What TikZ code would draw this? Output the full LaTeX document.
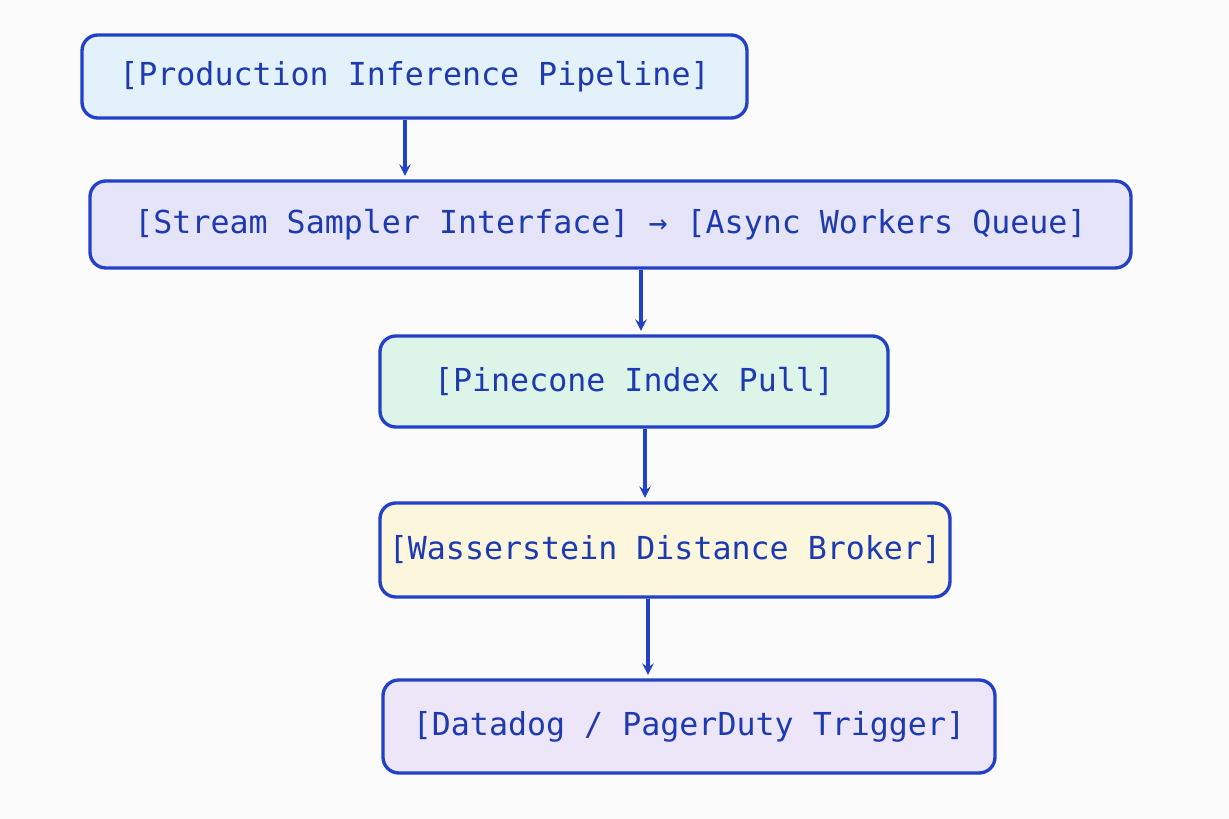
\documentclass[tikz,border=0pt]{standalone}
\usepackage{fontspec}
\setmonofont{DejaVu Sans Mono}
\usetikzlibrary{positioning,calc}
\definecolor{edge}{HTML}{2340C8}
\definecolor{ink}{HTML}{1E3AB0}
\definecolor{fillA}{HTML}{E3F1FB}
\definecolor{fillB}{HTML}{E6E4F8}
\definecolor{fillC}{HTML}{DDF5E8}
\definecolor{fillD}{HTML}{FBF6DC}
\definecolor{fillE}{HTML}{ECE6F8}
\tikzset{
  stage/.style={draw=edge,line width=1.9pt,rounded corners=9pt,text=ink,
    font=\ttfamily\fontsize{18}{21}\selectfont,inner sep=0pt},
  flow/.style={-stealth,draw=edge,line width=1.8pt,shorten >=2pt}
}
\begin{document}
\begin{tikzpicture}
		\fill[white!97!gray] (0,0) rectangle (24.58,-16.38);
		\useasboundingbox (0,0) rectangle (24.58,-16.38);
		\node[stage,fill=fillA,minimum width=13.3cm,minimum height=1.66cm] (pipe) at (8.29,-1.53) {[Production Inference Pipeline]};
		\node[stage,fill=fillB,minimum width=20.82cm,minimum height=1.74cm] (sampler) at (12.21,-4.49) {[Stream Sampler Interface] → [Async Workers Queue]};
		\node[stage,fill=fillC,minimum width=10.16cm,minimum height=1.82cm] (pull) at (12.68,-7.63) {[Pinecone Index Pull]};
		\node[stage,fill=fillD,minimum width=11.4cm,minimum height=1.88cm] (broker) at (13.3,-11.0) {[Wasserstein Distance Broker]};
		\node[stage,fill=fillE,minimum width=12.24cm,minimum height=1.86cm] (trigger) at (13.78,-14.53) {[Datadog / PagerDuty Trigger]};
		
		\coordinate (s1) at ($(pipe.south)+(-0.19,0)$);
		\coordinate (s2) at ($(sampler.south)+(0.61,0)$);
		\coordinate (s3) at ($(pull.south)+(0.22,0)$);
		\coordinate (s4) at ($(broker.south)+(-0.34,0)$);
		\draw[flow] (s1) -- (s1 |- sampler.north);
		\draw[flow] (s2) -- (s2 |- pull.north);
		\draw[flow] (s3) -- (s3 |- broker.north);
		\draw[flow] (s4) -- (s4 |- trigger.north);
	\end{tikzpicture}
\end{document}
